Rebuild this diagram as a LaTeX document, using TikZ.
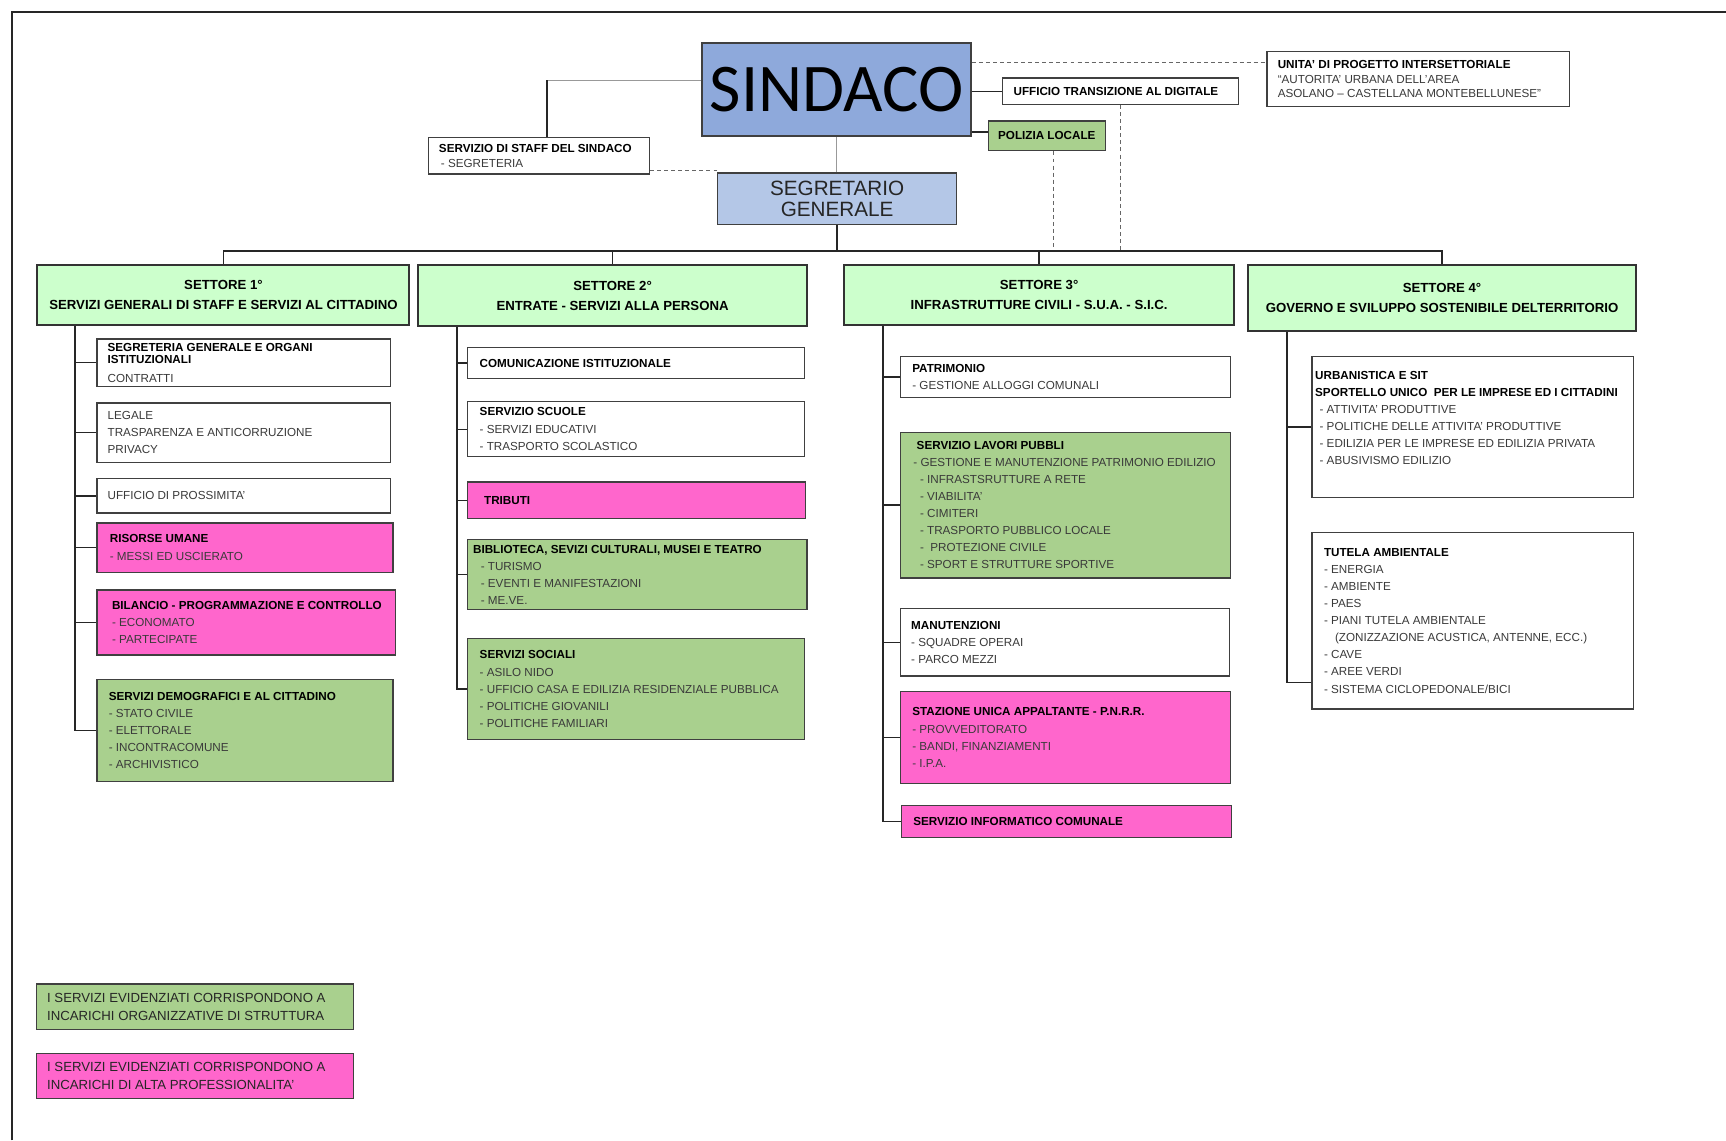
\documentclass[tikz,border=0pt]{standalone}
\usepackage{fontspec}
\setmainfont{Liberation Sans}
\newfontfamily\calibfont{Carlito}
\usetikzlibrary{calc}
\definecolor{sindblue}{HTML}{8EA9DB}
\definecolor{segblue}{HTML}{B4C7E7}
\definecolor{setgreen}{HTML}{CCFFCC}
\definecolor{iogreen}{HTML}{A9D08E}
\definecolor{apmag}{HTML}{FF66CC}
\definecolor{itemgray}{HTML}{3A3A3A}
\definecolor{boxline}{HTML}{404040}
\newcommand\hd[1]{{\color{black}\bfseries #1}}
% name, x1, y1, x2, y2, box style, text node options, text
\newcommand\ubox[8]{%
  \node[#6, minimum width={(#4-#2)*0.5pt}, minimum height={(#5-#3)*0.5pt}] (#1) at ({(#2+#4)/2},{(#3+#5)/2}) {};
  \node[txt, anchor=west, #7] (#1-t) at (#1.west) {#8};}
\newcommand\sett[6]{%
  \node[settore, minimum width={(#4-#2)*0.5pt}, minimum height={(#5-#3)*0.5pt}] (#1) at ({(#2+#4)/2},{(#3+#5)/2}) {#6};}
\begin{document}
\begin{tikzpicture}[x=0.5pt,y=-0.5pt,
  txt/.style={inner sep=0pt, align=left, text=itemgray, font=\fontsize{5.3}{7.75}\selectfont},
  boxw/.style={draw=boxline, line width=0.6pt, fill=white, inner sep=0pt},
  boxg/.style={boxw, fill=iogreen},
  boxm/.style={boxw, fill=apmag},
  settore/.style={draw=black!80, line width=0.9pt, fill=setgreen, inner sep=0pt, align=center, font=\bfseries\fontsize{6}{9}\selectfont},
  conn/.style={draw=black!85, line width=0.7pt},
  lconn/.style={draw=black!40, line width=0.6pt},
  dconn/.style={draw=black!60, line width=0.6pt, dash pattern=on 1.8pt off 1.4pt},
  legtxt/.style={font=\fontsize{6}{8}\selectfont, text=black!85},
]
\useasboundingbox (0,0) rectangle (1568,1036);
\draw[line width=0.8pt, black!85] (11,1036) -- (11,11) -- (1568,11);

% ---------- top level ----------
\node[draw=boxline, line width=0.9pt, fill=sindblue, minimum width=122pt, minimum height=42.5pt, inner sep=0pt, font=\calibfont\fontsize{31}{31}\selectfont] (SIN) at (760,81.5) {SINDACO};
\node[draw=boxline, line width=0.7pt, fill=segblue, minimum width=108.5pt, minimum height=23.5pt, inner sep=0pt, align=center, text=black!85, font=\fontsize{9.4}{9.5}\selectfont] (SEG) at (760.5,180.5) {SEGRETARIO\\GENERALE};

\ubox{STF}{389}{125}{590}{158}{boxw}{xshift=5pt}{\hd{SERVIZIO DI STAFF DEL SINDACO}\\[-0.75pt]\,- SEGRETERIA}
\ubox{UFF}{911}{71}{1125}{95}{boxw}{xshift=5pt}{\hd{UFFICIO TRANSIZIONE AL DIGITALE}}
\ubox{POL}{898}{110}{1004}{137}{boxg}{xshift=4.5pt}{\hd{POLIZIA LOCALE}}
\ubox{UNI}{1151}{47}{1426}{97}{boxw}{xshift=5pt}{\hd{UNITA' DI PROGETTO INTERSETTORIALE}\\[-1.25pt]“AUTORITA' URBANA DELL'AREA\\[-1.25pt]ASOLANO – CASTELLANA MONTEBELLUNESE”}

% ---------- settori ----------
\sett{S1}{34}{241}{372}{295}{SETTORE 1°\\SERVIZI GENERALI DI STAFF E SERVIZI AL CITTADINO}
\sett{S2}{380}{241}{733}{296}{SETTORE 2°\\ENTRATE - SERVIZI ALLA PERSONA}
\sett{S3}{767}{241}{1121}{295}{SETTORE 3°\\INFRASTRUTTURE CIVILI - S.U.A. - S.I.C.}
\sett{S4}{1134}{241}{1486}{301}{SETTORE 4°\\GOVERNO E SVILUPPO SOSTENIBILE DELTERRITORIO}

% ---------- settore 1 ----------
\ubox{a1}{88}{308}{355}{351}{boxw}{xshift=5pt}{\hd{SEGRETERIA GENERALE E ORGANI}\\[-2.25pt]\hd{ISTITUZIONALI}\\[0.75pt]CONTRATTI}
\ubox{a2}{88}{366}{355}{420}{boxw}{xshift=5pt}{LEGALE\\TRASPARENZA E ANTICORRUZIONE\\PRIVACY}
\ubox{a3}{88}{435}{355}{466}{boxw}{xshift=5pt}{UFFICIO DI PROSSIMITA'}
\ubox{a4}{88}{475}{357}{520}{boxm}{xshift=6pt}{\hd{RISORSE UMANE}\\[0.25pt]- MESSI ED USCIERATO}
\ubox{a5}{88}{536}{359}{595}{boxm}{xshift=7pt}{\hd{BILANCIO - PROGRAMMAZIONE E CONTROLLO}\\- ECONOMATO\\- PARTECIPATE}
\ubox{a6}{88}{617}{357}{710}{boxg}{xshift=5.5pt}{\hd{SERVIZI DEMOGRAFICI E AL CITTADINO}\\- STATO CIVILE\\- ELETTORALE\\- INCONTRACOMUNE\\- ARCHIVISTICO}

% ---------- settore 2 ----------
\ubox{b1}{425}{316}{731}{344}{boxw}{xshift=5.5pt}{\hd{COMUNICAZIONE ISTITUZIONALE}}
\ubox{b2}{425}{365}{731}{415}{boxw}{xshift=5.5pt}{\hd{SERVIZIO SCUOLE}\\[0.25pt]- SERVIZI EDUCATIVI\\[0.25pt]- TRASPORTO SCOLASTICO}
\ubox{b3}{425}{438}{732}{471}{boxm}{xshift=7.5pt}{\hd{TRIBUTI}}
\ubox{b4}{425}{490}{733}{554}{boxg}{xshift=2.5pt}{\hd{BIBLIOTECA, SEVIZI CULTURALI, MUSEI E TEATRO}\\\hspace*{3.5pt}- TURISMO\\\hspace*{3.5pt}- EVENTI E MANIFESTAZIONI\\\hspace*{3.5pt}- ME.VE.}
\ubox{b5}{425}{580}{731}{672}{boxg}{xshift=5.5pt}{\hd{SERVIZI SOCIALI}\\- ASILO NIDO\\- UFFICIO CASA E EDILIZIA RESIDENZIALE PUBBLICA\\- POLITICHE GIOVANILI\\- POLITICHE FAMILIARI}

% ---------- settore 3 ----------
\ubox{c1}{818}{324}{1118}{361}{boxw}{xshift=5.5pt}{\hd{PATRIMONIO}\\[-0.25pt]- GESTIONE ALLOGGI COMUNALI}
\ubox{c2}{818}{393}{1118}{525}{boxg}{xshift=6pt}{\hd{\hspace*{1.5pt}SERVIZIO LAVORI PUBBLI}\\- GESTIONE E MANUTENZIONE PATRIMONIO EDILIZIO\\\hspace*{3pt}- INFRASTSRUTTURE A RETE\\\hspace*{3pt}- VIABILITA'\\\hspace*{3pt}- CIMITERI\\\hspace*{3pt}- TRASPORTO PUBBLICO LOCALE\\\hspace*{3pt}-\ \ PROTEZIONE CIVILE\\\hspace*{3pt}- SPORT E STRUTTURE SPORTIVE}
\ubox{c3}{818}{553}{1117}{614}{boxw}{xshift=5pt}{\hd{MANUTENZIONI}\\- SQUADRE OPERAI\\- PARCO MEZZI}
\ubox{c4}{818}{628}{1118}{712}{boxm}{xshift=5.5pt}{\hd{STAZIONE UNICA APPALTANTE - P.N.R.R.}\\- PROVVEDITORATO\\- BANDI, FINANZIAMENTI\\- I.P.A.}
\ubox{c5}{819}{732}{1119}{761}{boxm}{xshift=5.5pt}{\hd{SERVIZIO INFORMATICO COMUNALE}}

% ---------- settore 4 ----------
\ubox{d1}{1192}{324}{1484}{452}{boxw}{xshift=1.5pt, yshift=4pt}{\hd{URBANISTICA E SIT}\\\hd{SPORTELLO UNICO\ \ PER LE IMPRESE ED I CITTADINI}\\\hspace*{2pt}- ATTIVITA' PRODUTTIVE\\\hspace*{2pt}- POLITICHE DELLE ATTIVITA' PRODUTTIVE\\\hspace*{2pt}- EDILIZIA PER LE IMPRESE ED EDILIZIA PRIVATA\\\hspace*{2pt}- ABUSIVISMO EDILIZIO}
\ubox{d2}{1192}{484}{1484}{644}{boxw}{xshift=5.5pt}{\hd{TUTELA AMBIENTALE}\\- ENERGIA\\- AMBIENTE\\- PAES\\- PIANI TUTELA AMBIENTALE\\\hspace*{5pt}(ZONIZZAZIONE ACUSTICA, ANTENNE, ECC.)\\- CAVE\\- AREE VERDI\\- SISTEMA CICLOPEDONALE/BICI}

% ---------- legend ----------
\ubox{L1}{33}{894}{321}{935}{boxg}{xshift=5pt, legtxt}{I SERVIZI EVIDENZIATI CORRISPONDONO A\\INCARICHI ORGANIZZATIVE DI STRUTTURA}
\ubox{L2}{33}{957}{321}{998}{boxm}{xshift=5pt, legtxt}{I SERVIZI EVIDENZIATI CORRISPONDONO A\\INCARICHI DI ALTA PROFESSIONALITA'}

% ---------- connectors: top ----------
\coordinate (bus) at (0,228);
\coordinate (k1) at (497,73);
\coordinate (k2) at (0,155);
\coordinate (k3) at (0,57);
\coordinate (k4) at (0,120);
\coordinate (k5) at (957,0);
\draw[lconn] (SIN.south) -- (SIN.south |- SEG.north);
\draw[lconn] (SIN.west |- k1) -- (k1);
\draw[conn] (k1) -- (k1 |- STF.north);
\draw[dconn] (STF.east |- k2) -- (SEG.west |- k2);
\draw[dconn] (SIN.east |- k3) -- (UNI.west |- k3);
\draw[conn] (SIN.east |- UFF.west) -- (UFF.west);
\draw[conn] (SIN.east |- k4) -- (POL.west |- k4);
\draw[dconn] (POL.south -| k5) -- (k5 |- bus);
\draw[dconn] (UFF.south) -- (UFF.south |- bus);
\draw[conn] (SEG.south) -- (SEG.south |- bus);
\draw[conn] (S1.north) -- (S1.north |- bus) -- (S4.north |- bus) -- (S4.north);
\draw[conn] (S2.north) -- (S2.north |- bus);
\draw[conn] (S3.north) -- (S3.north |- bus);

% ---------- connectors: settori ----------
\coordinate (sp1) at (68,0);
\coordinate (sp2) at (415,0);
\coordinate (sp3) at (802,0);
\coordinate (d2c) at (1169,620);
\draw[conn] (S1.south -| sp1) |- (a6.west);
\foreach \n in {a1,a2,a3,a4,a5} \draw[conn] (\n.west -| sp1) -- (\n.west);
\draw[conn] (S2.south -| sp2) |- (b5.west);
\foreach \n in {b1,b2,b3,b4} \draw[conn] (\n.west -| sp2) -- (\n.west);
\draw[conn] (S3.south -| sp3) |- (c5.west);
\foreach \n in {c1,c2,c3,c4} \draw[conn] (\n.west -| sp3) -- (\n.west);
\draw[conn] (S4.south -| d2c) -- (d2c) -- (d2.west |- d2c);
\draw[conn] (d1.west -| d2c) -- (d1.west);
\end{tikzpicture}
\end{document}
